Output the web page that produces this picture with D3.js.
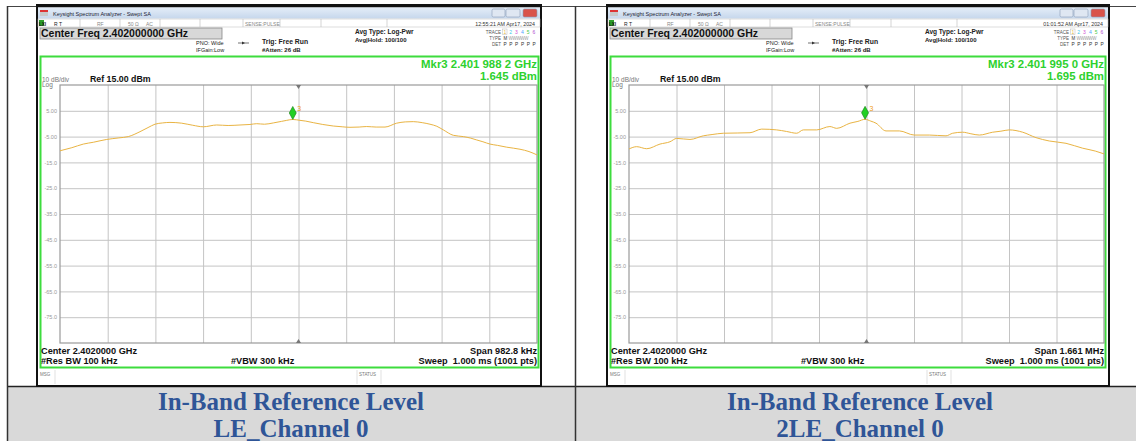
<!DOCTYPE html>
<html>
<head>
<meta charset="utf-8">
<script src="https://cdn.jsdelivr.net/npm/d3@7"></script>
<style>
  body { margin: 0; background: #fff; }
  svg { display: block; }
  .sa { font-family: "Liberation Sans", Arial, sans-serif; }
  .cap { font-family: "Liberation Serif", "DejaVu Serif", serif; font-weight: bold; fill: #2f5597; }
</style>
</head>
<body>
<svg id="chart" width="1136" height="441"></svg>
<script>
const leFreqKHz = [-491.4, -467, -443.4, -422.8, -395.2, -370, -350.7, -326.6, -310, -295.7, -280, -264.8, -240.7, -218, -196.1, -168.5, -145, -120.5, -100, -86.1, -70, -51.9, -35, -24.3, -11.8, 3.1, 15, 30.5, 50, 71.7, 90, 106.1, 125, 140.5, 160, 178.2, 202.3, 220, 236.5, 255, 270.9, 285, 298.4, 319.0, 339.6, 355, 367.2, 380, 394.6, 410, 429.0, 456.4, 475, 491.4];
const leLevel   = [-10.5, -9.3, -7.9, -7.2, -6.1, -5.5, -5.0, -3.1, -1.5, -0.2, 0.3, 0.5, 0.2, -0.6, -1.2, -0.5, -0.7, -0.5, -0.3, 0, -0.2, 0.3, 0.9, 1.3, 1.645, 1.3, 1.0, 0.4, -0.3, -0.9, -1.2, -1.4, -1.3, -1.1, -1.3, -1.3, 0.2, 0.7, 0.8, 0.4, -0.2, -1.0, -2.4, -4.5, -5.0, -5.6, -6.3, -7.0, -7.9, -8.4, -9.1, -9.9, -10.8, -12.1];

const le2FreqKHz = [-830.5, -803.6, -768.6, -722.1, -687.1, -663.7, -617.2, -570.7, -540, -500.7, -450, -407.4, -366.5, -314.0, -280, -244.1, -221.0, -174.1, -128.0, -104.2, -57.7, -30, -5.0, 15, 33.2, 68.2, 115.0, 167.2, 219.6, 278.0, 301.4, 336.4, 365, 394.5, 441.3, 470, 499.3, 546.2, 592.7, 639.2, 697.6, 756.0, 800, 830.5];
const le2Level   = [-9.8, -8.9, -9.7, -7.9, -7.0, -5.7, -6.1, -4.7, -4.2, -3.7, -3.6, -3.5, -2.1, -2.4, -3.0, -3.7, -2.4, -2.4, -1.1, -1.8, 0.2, 0.9, 1.695, 1.0, 0.2, -2.8, -2.8, -4.4, -4.4, -4.7, -3.7, -3.3, -3.9, -4.4, -3.3, -2.9, -2.4, -3.3, -5.4, -6.7, -7.6, -9.5, -10.6, -11.7];

// Graduations verticales (10 dB/div, ref 15 dBm).
const yTicks = [5, -5, -15, -25, -35, -45, -55, -65, -75];
const yTickLabels = ["5.00", "-5.00", "-15.0", "-25.0", "-35.0", "-45.0", "-55.0", "-65.0", "-75.0"];
const traceNumbers = ["1", "2", "3", "4", "5", "6"];
const traceColors = ["#e8b84a", "#3fc8e8", "#d24fd2", "#4aa0ff", "#48c848", "#b050d0"];

const panels = [
  {
    wx0: 37, wx1: 541, gx0: 60, gx1: 537, capX: 291,
    spanKHz: 982.8, freq: leFreqKHz, level: leLevel,
    mkrKHz: -11.8, mkrFreq: "Mkr3 2.401 988 2 GHz", mkrLevel: "1.645 dBm",
    time: "12:55:21 AM Apr17, 2024", span: "Span 982.8 kHz",
    caption: ["In-Band Reference Level", "LE_Channel 0"]
  },
  {
    wx0: 607, wx1: 1109, gx0: 629, gx1: 1104, capX: 860,
    spanKHz: 1661, freq: le2FreqKHz, level: le2Level,
    mkrKHz: -5.0, mkrFreq: "Mkr3 2.401 995 0 GHz", mkrLevel: "1.695 dBm",
    time: "01:01:52 AM Apr17, 2024", span: "Span 1.661 MHz",
    caption: ["In-Band Reference Level", "2LE_Channel 0"]
  }
];

const svg = d3.select("#chart");
const defs = svg.append("defs");
const grad = defs.append("linearGradient").attr("id", "titlebar").attr("x1", 0).attr("x2", 0).attr("y1", 0).attr("y2", 1);
grad.append("stop").attr("offset", "0%").attr("stop-color", "#e4edf8");
grad.append("stop").attr("offset", "100%").attr("stop-color", "#c6d7ec");

// Bandeau gris des légendes du tableau.
svg.append("rect").attr("x", 7).attr("y", 387).attr("width", 1129).attr("height", 54).attr("fill", "#d9d9d9");
svg.append("line").attr("x1", 7).attr("x2", 1136).attr("y1", 6.5).attr("y2", 6.5).attr("stroke", "#444");
svg.append("line").attr("x1", 7).attr("x2", 1136).attr("y1", 386.5).attr("y2", 386.5).attr("stroke", "#222").attr("stroke-width", 1.5);
[7.5, 575.5].forEach(x => {
  svg.append("line").attr("x1", x).attr("x2", x).attr("y1", 6).attr("y2", 441).attr("stroke", "#333").attr("stroke-width", 1.5);
});

panels.forEach(drawPanel);

function drawPanel(p) {
  const g = svg.append("g").attr("class", "sa");
  const gy0 = 85, gy1 = 343;

  // Cadre de la fenêtre.
  g.append("rect").attr("x", p.wx0).attr("y", 5).attr("width", p.wx1 - p.wx0).attr("height", 381)
    .attr("fill", "#fff").attr("stroke", "#111").attr("stroke-width", 2);
  g.append("rect").attr("x", p.wx0).attr("y", 5).attr("width", p.wx1 - p.wx0).attr("height", 2.5).attr("fill", "#111");

  // Barre de titre.
  g.append("rect").attr("x", p.wx0 + 1).attr("y", 7.5).attr("width", p.wx1 - p.wx0 - 2).attr("height", 11).attr("fill", "url(#titlebar)");
  g.append("rect").attr("x", p.wx0 + 3).attr("y", 10).attr("width", 8).attr("height", 6).attr("fill", "#c8c8c8");
  g.append("rect").attr("x", p.wx0 + 3).attr("y", 10).attr("width", 8).attr("height", 2).attr("fill", "#d33");
  g.append("text").attr("x", p.wx0 + 16).attr("y", 15.5).attr("font-size", 5.5).attr("fill", "#223")
    .text("Keysight Spectrum Analyzer - Swept SA");
  const btnX = p.wx1 - 49;
  [[0, 13, "#dfe7f2"], [14, 14, "#dfe7f2"], [31, 14, "#d9534a"]].forEach(b => {
    g.append("rect").attr("x", btnX + b[0]).attr("y", 9).attr("width", b[1]).attr("height", 8).attr("rx", 1.5)
      .attr("fill", b[2]).attr("stroke", "#8a9bb5").attr("stroke-width", 0.6);
  });

  // Ligne d'état.
  g.append("rect").attr("x", p.wx0 + 1).attr("y", 19).attr("width", p.wx1 - p.wx0 - 2).attr("height", 8)
    .attr("fill", "#fff").attr("stroke", "#bbb").attr("stroke-width", 0.5);
  [43, 83, 123, 163, 206, 243, 284, 350].forEach(dx => {
    g.append("line").attr("x1", p.wx0 + dx).attr("x2", p.wx0 + dx).attr("y1", 19).attr("y2", 27).attr("stroke", "#bbb").attr("stroke-width", 0.6);
  });
  g.append("rect").attr("x", p.wx0 + 2).attr("y", 20).attr("width", 5).attr("height", 6).attr("fill", "#2a9d2a");
  g.append("text").attr("x", p.wx0 + 2).attr("y", 25.5).attr("font-size", 4.5).attr("font-weight", "bold").attr("fill", "#111").text("LXI");
  const st = [[17, "R  T"], [60, "RF"], [91, "50 Ω"], [109, "AC"], [208, "SENSE:PULSE"]];
  st.forEach(s => {
    g.append("text").attr("x", p.wx0 + s[0]).attr("y", 25.5).attr("font-size", 5).attr("fill", s[0] === 17 ? "#222" : "#888").text(s[1]);
  });
  g.append("text").attr("x", p.wx1 - 6).attr("y", 25.5).attr("text-anchor", "end").attr("font-size", 5.3).attr("fill", "#333").text(p.time);

  // Fréquence centrale.
  g.append("rect").attr("x", p.wx0 + 3).attr("y", 28).attr("width", 182).attr("height", 11)
    .attr("fill", "#d8d8d8").attr("stroke", "#888").attr("stroke-width", 0.8);
  g.append("text").attr("x", p.wx0 + 4).attr("y", 37.3).attr("font-size", 10.5).attr("font-weight", "bold").attr("fill", "#111")
    .text("Center Freq 2.402000000 GHz");

  g.append("text").attr("x", p.wx0 + 159).attr("y", 45).attr("font-size", 5.5).attr("fill", "#222").text("PNO: Wide");
  g.append("text").attr("x", p.wx0 + 159).attr("y", 52).attr("font-size", 5.5).attr("fill", "#222").text("IFGain:Low");
  g.append("line").attr("x1", p.wx0 + 201).attr("x2", p.wx0 + 212).attr("y1", 43).attr("y2", 43).attr("stroke", "#333").attr("stroke-width", 0.7);
  g.append("path").attr("d", `M${p.wx0 + 205},41.5 L${p.wx0 + 208},43 L${p.wx0 + 205},44.5 Z`).attr("fill", "#333");
  g.append("text").attr("x", p.wx0 + 225).attr("y", 43.5).attr("font-size", 6.8).attr("font-weight", "bold").attr("fill", "#222").text("Trig: Free Run");
  g.append("text").attr("x", p.wx0 + 225).attr("y", 51.5).attr("font-size", 6).attr("font-weight", "bold").attr("fill", "#222").text("#Atten: 26 dB");
  g.append("text").attr("x", p.wx0 + 318).attr("y", 34).attr("font-size", 6.5).attr("font-weight", "bold").attr("fill", "#222").text("Avg Type: Log-Pwr");
  g.append("text").attr("x", p.wx0 + 318).attr("y", 42).attr("font-size", 6).attr("font-weight", "bold").attr("fill", "#222").text("Avg|Hold: 100/100");

  // Tableau TRACE / TYPE / DET.
  const tx = p.wx1 - 40;
  [["TRACE", 33.5], ["TYPE", 39.5], ["DET", 45.5]].forEach(r => {
    g.append("text").attr("x", tx).attr("y", r[1]).attr("text-anchor", "end").attr("font-size", 4.5).attr("fill", "#555").text(r[0]);
  });
  g.append("rect").attr("x", tx + 1.5).attr("y", 29).attr("width", 4.5).attr("height", 5.5).attr("fill", "none").attr("stroke", "#bbb").attr("stroke-width", 0.5);
  traceNumbers.forEach((n, i) => {
    g.append("text").attr("x", tx + 2.5 + i * 5.8).attr("y", 33.5).attr("font-size", 5).attr("fill", traceColors[i]).text(n);
    g.append("text").attr("x", tx + 2.5 + i * 5.8).attr("y", 45.5).attr("font-size", 4.8).attr("fill", "#333").text("P");
  });
  g.append("text").attr("x", tx + 2.5).attr("y", 39.5).attr("font-size", 4.5).attr("fill", "#333").text("M");
  g.append("text").attr("x", tx + 7.5).attr("y", 39.5).attr("font-size", 4.5).attr("fill", "#999").attr("letter-spacing", -0.3).text("WWWWW");

  // Zone de mesure (cadre vert).
  g.append("rect").attr("x", p.wx0 + 3.5).attr("y", 56.5).attr("width", p.gx1 - p.wx0 - 2).attr("height", 311)
    .attr("fill", "none").attr("stroke", "#3ddc3d").attr("stroke-width", 2);

  g.append("text").attr("x", p.gx1).attr("y", 67.5).attr("text-anchor", "end").attr("font-size", 11.4).attr("font-weight", "bold").attr("fill", "#2ed12e").text(p.mkrFreq);
  g.append("text").attr("x", p.gx1).attr("y", 80).attr("text-anchor", "end").attr("font-size", 11.4).attr("font-weight", "bold").attr("fill", "#2ed12e").text(p.mkrLevel);

  g.append("text").attr("x", p.wx0 + 5).attr("y", 81.5).attr("font-size", 6.5).attr("fill", "#777").text("10 dB/div");
  g.append("text").attr("x", p.wx0 + 5).attr("y", 87).attr("font-size", 6.5).attr("fill", "#777").text("Log");
  g.append("text").attr("x", p.wx0 + 53).attr("y", 81.5).attr("font-size", 8.8).attr("font-weight", "bold").attr("fill", "#111").text("Ref 15.00 dBm");

  // Échelles.
  const x = d3.scaleLinear().domain([-p.spanKHz / 2, p.spanKHz / 2]).range([p.gx0, p.gx1]);
  const y = d3.scaleLinear().domain([-85, 15]).range([gy1, gy0]);

  const xGrid = d3.range(1, 10).map(i => -p.spanKHz / 2 + i * p.spanKHz / 10);
  g.append("g").attr("transform", `translate(0,${gy1})`)
    .call(d3.axisBottom(x).tickValues(xGrid).tickSize(-(gy1 - gy0)).tickFormat(""))
    .call(a => a.select(".domain").remove())
    .call(a => a.selectAll("line").attr("stroke", "#c4c4c4").attr("stroke-width", 1));

  g.append("g").attr("transform", `translate(${p.gx0},0)`)
    .call(d3.axisLeft(y).tickValues(yTicks).tickSize(-(p.gx1 - p.gx0)).tickFormat((d, i) => yTickLabels[i]).tickPadding(3))
    .call(a => a.select(".domain").remove())
    .call(a => a.selectAll("line").attr("stroke", "#c4c4c4").attr("stroke-width", 1))
    .call(a => a.selectAll("text").attr("font-size", 5.5).attr("fill", "#999").attr("font-family", "Liberation Sans, Arial, sans-serif"));

  g.append("rect").attr("x", p.gx0).attr("y", gy0).attr("width", p.gx1 - p.gx0).attr("height", gy1 - gy0)
    .attr("fill", "none").attr("stroke", "#9a9a9a").attr("stroke-width", 1.2);

  // Repères du centre en haut et en bas.
  const cx = x(0);
  g.append("path").attr("d", `M${cx - 2.5},${gy0} L${cx + 2.5},${gy0} L${cx},${gy0 + 4} Z`).attr("fill", "#777");
  g.append("path").attr("d", `M${cx - 2.5},${gy1} L${cx + 2.5},${gy1} L${cx},${gy1 - 4} Z`).attr("fill", "#777");

  // Trace.
  const line = d3.line().x(d => x(d[0])).y(d => y(d[1])).curve(d3.curveMonotoneX);
  g.append("path").datum(d3.zip(p.freq, p.level)).attr("d", line)
    .attr("fill", "none").attr("stroke", "#e9b443").attr("stroke-width", 1);

  // Marqueur 3.
  const mkrIdx = p.freq.indexOf(p.mkrKHz);
  const mx = x(p.mkrKHz), my = y(p.level[mkrIdx]);
  g.append("path").attr("d", `M${mx},${my} L${mx - 3.5},${my - 6.5} L${mx},${my - 13} L${mx + 3.5},${my - 6.5} Z`)
    .attr("fill", "#22d022").attr("stroke", "#137a13").attr("stroke-width", 0.6);
  g.append("text").attr("x", mx + 4.5).attr("y", my - 8.5).attr("font-size", 7).attr("fill", "#f0a020").text("3");

  // Bas de l'écran.
  const bottom = [
    [p.wx0 + 4, 353.5, "start", "Center 2.4020000 GHz"],
    [p.wx0 + 4, 364, "start", "#Res BW 100 kHz"],
    [p.wx0 + 194, 364, "start", "#VBW 300 kHz"],
    [p.gx1, 353.5, "end", p.span],
    [p.gx1, 364, "end", "Sweep  1.000 ms (1001 pts)"]
  ];
  bottom.forEach(b => {
    g.append("text").attr("x", b[0]).attr("y", b[1]).attr("text-anchor", b[2]).attr("font-size", 9.2)
      .attr("font-weight", "bold").attr("fill", "#111").attr("xml:space", "preserve").text(b[3]);
  });

  // Barre MSG / STATUS.
  [18, 320, 344].forEach(dx => {
    g.append("line").attr("x1", p.wx0 + dx).attr("x2", p.wx0 + dx).attr("y1", 370).attr("y2", 384).attr("stroke", "#ccc").attr("stroke-width", 0.6);
  });
  g.append("text").attr("x", p.wx0 + 3).attr("y", 376).attr("font-size", 4.5).attr("fill", "#777").text("MSG");
  g.append("text").attr("x", p.wx0 + 322).attr("y", 376).attr("font-size", 4.5).attr("fill", "#777").text("STATUS");

  // Légende sous la capture.
  svg.append("text").attr("class", "cap").attr("x", p.capX).attr("y", 410).attr("text-anchor", "middle").attr("font-size", 25).text(p.caption[0]);
  svg.append("text").attr("class", "cap").attr("x", p.capX).attr("y", 437).attr("text-anchor", "middle").attr("font-size", 25).text(p.caption[1]);
}
</script>
</body>
</html>
